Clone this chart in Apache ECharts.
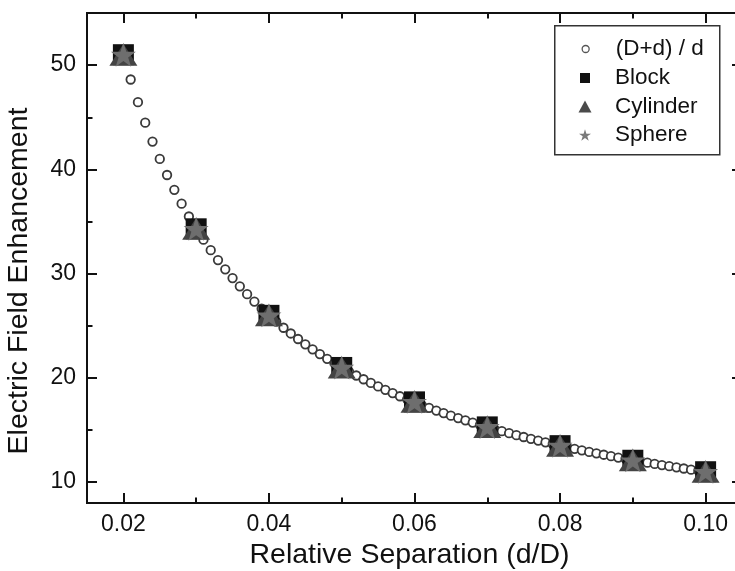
<!DOCTYPE html>
<html>
<head>
<meta charset="utf-8">
<script src="https://cdn.jsdelivr.net/npm/echarts@6/dist/echarts.min.js"></script>
<style>
html,body{margin:0;padding:0;background:#fff;}
#chart{width:735px;height:571px;}
</style>
</head>
<body>
<div id="chart"></div>
<script>
// ---- data ----
const circleX = [0.020,0.021,0.022,0.023,0.024,0.025,0.026,0.027,0.028,0.029,
  0.030,0.031,0.032,0.033,0.034,0.035,0.036,0.037,0.038,0.039,
  0.040,0.041,0.042,0.043,0.044,0.045,0.046,0.047,0.048,0.049,
  0.050,0.051,0.052,0.053,0.054,0.055,0.056,0.057,0.058,0.059,
  0.060,0.061,0.062,0.063,0.064,0.065,0.066,0.067,0.068,0.069,
  0.070,0.071,0.072,0.073,0.074,0.075,0.076,0.077,0.078,0.079,
  0.080,0.081,0.082,0.083,0.084,0.085,0.086,0.087,0.088,0.089,
  0.090,0.091,0.092,0.093,0.094,0.095,0.096,0.097,0.098,0.099,0.100];
const circleY = [51.00,48.62,46.45,44.48,42.67,41.00,39.46,38.04,36.71,35.48,
  34.33,33.26,32.25,31.30,30.41,29.57,28.78,28.03,27.32,26.64,
  26.00,25.39,24.81,24.26,23.73,23.22,22.74,22.28,21.83,21.41,
  21.00,20.61,20.23,19.87,19.52,19.18,18.86,18.54,18.24,17.95,
  17.67,17.39,17.13,16.87,16.63,16.38,16.15,15.93,15.71,15.49,
  15.29,15.08,14.89,14.70,14.51,14.33,14.16,13.99,13.82,13.66,
  13.50,13.35,13.20,13.05,12.90,12.76,12.63,12.49,12.36,12.24,
  12.11,11.99,11.87,11.75,11.64,11.53,11.42,11.31,11.20,11.10,11.00];
const markerX = [0.02,0.03,0.04,0.05,0.06,0.07,0.08,0.09,0.10];
const blockY = [51.0,34.3,26.0,21.0,17.7,15.3,13.5,12.1,11.0];
const cylinderY = [51.0,34.3,26.0,21.0,17.7,15.3,13.5,12.1,11.0];
const sphereY = [51.0,34.3,26.0,21.0,17.7,15.3,13.5,12.1,11.0];
const seriesNames = ['(D+d) / d','Block','Cylinder','Sphere'];
const xMajorTicks = [0.02,0.04,0.06,0.08,0.10];
const xMinorTicks = [0.03,0.05,0.07,0.09];
const yMajorTicks = [10,20,30,40,50];
const yMinorTicks = [15,25,35,45];
const xTitle = 'Relative Separation (d/D)';
const yTitle = 'Electric Field Enhancement';

const pair = (xs, ys) => xs.map((x, i) => [x, ys[i]]);
const STAR = 'path://M50 0 L61.23 34.55 L97.55 34.55 L68.16 55.9 L79.39 90.45 L50 69.1 L20.61 90.45 L31.84 55.9 L2.45 34.55 L38.77 34.55 Z';
const FONT = '"Liberation Sans", Arial, sans-serif';
const INK = '#111';

function makeX(pos, ticks, len, labels) {
  return {
    type: 'value', min: 0.015, max: 0.105, position: pos,
    axisLine: { show: true, onZero: false, lineStyle: { color: INK, width: 2 } },
    axisTick: { show: true, inside: true, length: len, customValues: ticks, lineStyle: { color: INK, width: 2 } },
    axisLabel: labels ? { show: true, customValues: ticks, formatter: v => v.toFixed(2), fontSize: 23, color: INK, fontFamily: FONT, margin: 10 } : { show: false },
    splitLine: { show: false }
  };
}
function makeY(pos, ticks, len, labels) {
  return {
    type: 'value', min: 8, max: 55, position: pos,
    axisLine: { show: true, onZero: false, lineStyle: { color: INK, width: 2 } },
    axisTick: { show: true, inside: true, length: len, customValues: ticks, lineStyle: { color: INK, width: 2 } },
    axisLabel: labels ? { show: true, customValues: ticks, formatter: v => String(v), fontSize: 23, color: INK, fontFamily: FONT, margin: 11 } : { show: false },
    splitLine: { show: false }
  };
}

const xAxes = [makeX('bottom', xMajorTicks, 10, true), makeX('bottom', xMinorTicks, 5.5, false),
               makeX('top', xMajorTicks, 10, false), makeX('top', xMinorTicks, 5.5, false)];
Object.assign(xAxes[0], { name: xTitle, nameLocation: 'middle', nameGap: 38,
  nameTextStyle: { fontSize: 28.5, color: INK, fontFamily: FONT, padding: [0, 10, 0, 0] } });
const yAxes = [makeY('left', yMajorTicks, 10, true), makeY('left', yMinorTicks, 5.5, false),
               makeY('right', yMajorTicks, 10, false), makeY('right', yMinorTicks, 5.5, false)];
Object.assign(yAxes[0], { name: yTitle, nameLocation: 'middle', nameGap: 53,
  nameTextStyle: { fontSize: 28.5, color: INK, fontFamily: FONT, padding: [0, 46, 0, 0] } });

const legendRows = [49, 78, 106.5, 135];
const legendIcons = [
  { icon: 'circle', w: 7, h: 7, style: { color: '#fff', borderColor: '#555', borderWidth: 1.3 } },
  { icon: 'rect', w: 10, h: 10, style: { color: '#111' } },
  { icon: 'triangle', w: 13, h: 12, style: { color: '#4a4a4a' } },
  { icon: STAR, w: 12, h: 12, style: { color: '#7a7a7a' } }
];
const legends = seriesNames.map((n, i) => {
  const ic = legendIcons[i];
  return {
    show: true, selectedMode: false, orient: 'vertical', padding: 0,
    left: 585 - ic.w / 2, top: legendRows[i] - 12,
    itemWidth: ic.w, itemHeight: ic.h, z: 5,
    data: [{ name: n, icon: ic.icon, itemStyle: ic.style }],
    textStyle: { fontSize: 22.5, color: INK, fontFamily: FONT, lineHeight: 24, padding: [0, 0, 0, 25 - ic.w / 2] }
  };
});

const chart = echarts.init(document.getElementById('chart'), null, { renderer: 'canvas' });
chart.setOption({
  animation: false,
  backgroundColor: '#fff',
  grid: { left: 87, top: 13, width: 655, bottom: 68, containLabel: false, outerBoundsMode: 'none' },
  xAxis: xAxes,
  yAxis: yAxes,
  legend: legends,
  graphic: [{ type: 'rect', left: 554, top: 25, z: 1,
    shape: { width: 165, height: 129 },
    style: { fill: '#fff', stroke: '#333', lineWidth: 1.5 } }],
  series: [
    { name: seriesNames[0], type: 'scatter', data: pair(circleX, circleY), symbol: 'circle', symbolSize: 8.5, z: 2,
      itemStyle: { color: '#fff', borderColor: '#3a3a3a', borderWidth: 1.8, opacity: 1 } },
    { name: seriesNames[1], type: 'scatter', data: pair(markerX, blockY), symbol: 'rect', symbolSize: 21, z: 3,
      itemStyle: { color: '#111', opacity: 1 } },
    { name: seriesNames[2], type: 'scatter', data: pair(markerX, cylinderY), symbol: 'triangle', symbolSize: [28, 22], z: 4,
      itemStyle: { color: '#444', opacity: 1 } },
    { name: seriesNames[3], type: 'scatter', data: pair(markerX, sphereY), symbol: STAR, symbolSize: [25, 24], z: 5,
      itemStyle: { color: '#6e6e6e', opacity: 1 } }
  ]
});
</script>
</body>
</html>
